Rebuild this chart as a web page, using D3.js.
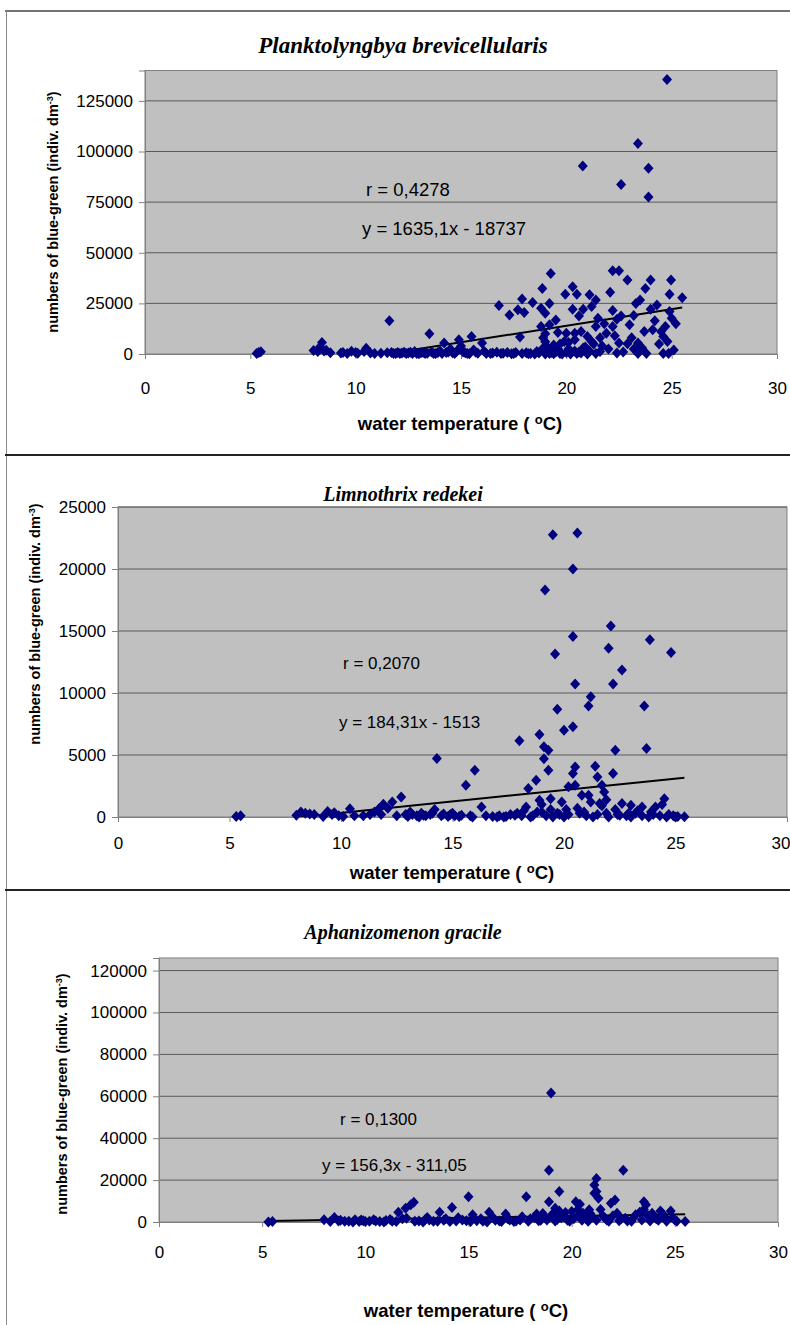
<!DOCTYPE html>
<html>
<head>
<meta charset="utf-8">
<title>blue-green vs water temperature</title>
<style>
  body { margin: 0; background: #fff; }
  svg { display: block; }
</style>
</head>
<body>
<script src="https://d3js.org/d3.v7.min.js"></script>
<script>
// ---- data ----
let titles = ["Planktolyngbya brevicellularis", "Limnothrix redekei", "Aphanizomenon gracile"];
let xTicks = [0, 5, 10, 15, 20, 25, 30];
let yTicks1 = [0, 25000, 50000, 75000, 100000, 125000];
let yTicks2 = [0, 5000, 10000, 15000, 20000, 25000];
let yTicks3 = [0, 20000, 40000, 60000, 80000, 100000, 120000];
let rLabels = ["r = 0,4278", "r = 0,2070", "r = 0,1300"];
let eqLabels = ["y = 1635,1x - 18737", "y = 184,31x - 1513", "y = 156,3x - 311,05"];
let slopes = [1635.1, 184.31, 156.3];
let intercepts = [-18737, -1513, -311.05];

// [water temperature, numbers]
let points1 = [
  [5.3,300],[5.4,800],[5.5,1100],
  [8.0,1700],[8.2,1200],[8.3,3400],[8.4,5700],[8.5,1500],[8.6,1800],[8.8,600],
  [9.3,500],[9.4,800],[9.6,300],[9.8,1300],[10.0,800],[10.1,400],[10.4,1200],[10.5,2900],[10.7,500],[10.9,200],
  [11.2,400],[11.5,600],[11.6,16400],[11.7,800],[11.8,300],[11.9,200],[12.0,700],[12.1,300],[12.2,500],[12.3,900],
  [12.4,200],[12.5,500],[12.6,900],[12.7,200],[12.8,1200],[12.9,300],[13.0,100],[13.1,600],[13.2,800],[13.3,200],
  [13.4,400],[13.5,10000],[13.6,1000],[13.7,200],[13.8,300],[13.9,700],[14.0,1500],[14.1,200],[14.2,5400],[14.3,800],
  [14.4,1000],[14.5,2500],[14.6,600],[14.7,300],[14.8,1400],[14.9,7000],[15.0,4000],[15.1,1000],[15.2,600],[15.3,300],
  [15.4,100],[15.5,8700],[15.6,2000],[15.7,900],[15.8,400],[16.0,5400],[16.1,1300],[16.2,200],[16.4,200],[16.5,500],
  [16.7,900],[16.8,23900],[16.9,300],[17.0,400],[17.2,800],[17.3,19300],[17.4,100],[17.5,300],[17.6,700],[17.7,21800],
  [17.8,8400],[17.9,27200],[17.9,300],[18.0,20500],[18.1,600],[18.2,100],[18.3,300],[18.4,25400],[18.5,0],[18.6,1200],
  [18.7,500],[18.8,22600],[18.8,13600],[18.86,32400],[18.9,3000],[18.9,8000],[19.0,20100],[19.0,10000],[19.0,6000],[19.0,0],
  [19.1,1500],[19.1,3500],[19.2,25000],[19.2,14400],[19.2,200],[19.26,39800],[19.3,800],[19.3,2000],[19.4,4500],[19.4,100],
  [19.5,16800],[19.5,1000],[19.6,10600],[19.6,2500],[19.7,300],[19.7,5000],[19.8,0],[19.9,6200],[19.95,29500],[20.0,10300],
  [20.0,800],[20.1,5700],[20.1,2500],[20.2,1500],[20.2,0],[20.3,33200],[20.3,22100],[20.4,10300],[20.4,7000],[20.4,1500],
  [20.5,29500],[20.5,300],[20.6,18800],[20.6,1000],[20.7,11100],[20.7,500],[20.78,92900],[20.8,22100],[20.8,3000],[20.9,3500],
  [21.0,8700],[21.0,0],[21.1,29200],[21.1,1500],[21.2,23400],[21.2,6200],[21.3,5000],[21.4,26700],[21.4,13600],[21.4,300],
  [21.5,17700],[21.6,1200],[21.6,8000],[21.7,4000],[21.8,15000],[21.9,10300],[22.0,2500],[22.08,30500],[22.2,41100],[22.2,21500],
  [22.2,13600],[22.3,9000],[22.4,17200],[22.4,500],[22.5,41100],[22.5,5400],[22.6,83700],[22.6,18800],[22.7,1000],[22.9,36500],
  [22.9,5100],[23.0,14400],[23.1,8000],[23.2,2500],[23.2,19000],[23.3,25000],[23.4,104000],[23.4,5400],[23.4,200],[23.5,26700],
  [23.6,3000],[23.7,11100],[23.75,32400],[23.8,300],[23.9,91700],[23.9,77500],[24.0,36500],[24.0,22100],[24.1,12000],[24.2,16400],
  [24.3,24200],[24.4,5000],[24.5,11100],[24.6,8700],[24.6,300],[24.7,13600],[24.78,135600],[24.8,6200],[24.85,200],[24.9,29500],
  [24.9,21000],[24.97,36500],[25.0,17700],[25.1,2000],[25.2,15000],[25.5,27800]
];
let points2 = [
  [5.3,50],[5.5,100],[8.0,150],[8.2,400],[8.4,300],[8.6,250],[8.8,200],[9.2,50],[9.4,450],[9.6,200],
  [9.7,350],[9.9,100],[10.1,50],[10.4,670],[10.6,100],[11.0,100],[11.3,200],[11.5,400],[11.7,670],[11.8,200],
  [11.9,1020],[12.1,700],[12.3,1210],[12.5,100],[12.7,1620],[12.9,200],[13.0,50],[13.1,400],[13.2,200],[13.4,100],
  [13.5,0],[13.6,300],[13.7,150],[13.8,100],[14.0,200],[14.1,300],[14.2,600],[14.3,4720],[14.5,100],[14.6,250],
  [14.8,50],[14.9,200],[15.0,300],[15.1,100],[15.3,50],[15.4,150],[15.6,2560],[15.8,100],[15.9,0],[16.0,3770],
  [16.3,810],[16.5,100],[16.8,50],[17.0,0],[17.1,100],[17.3,0],[17.4,50],[17.6,200],[17.8,150],[17.9,300],
  [18.0,6150],[18.1,100],[18.2,500],[18.3,800],[18.4,2290],[18.5,0],[18.6,100],[18.75,2960],[18.8,400],[18.9,6650],
  [18.9,1350],[19.0,400],[19.0,1000],[19.1,5660],[19.1,4700],[19.15,18300],[19.2,100],[19.3,5390],[19.3,3770],[19.4,1480],
  [19.4,600],[19.5,22770],[19.5,0],[19.6,13150],[19.7,8680],[19.7,300],[19.8,200],[19.9,1200],[20.0,7000],[20.0,0],
  [20.1,600],[20.2,2430],[20.2,200],[20.4,20000],[20.4,14550],[20.4,7280],[20.4,3500],[20.5,10730],[20.5,4040],[20.5,2560],
  [20.6,22900],[20.6,700],[20.7,300],[20.8,1750],[20.9,400],[21.0,100],[21.1,8950],[21.1,1750],[21.2,9700],[21.2,1200],
  [21.3,0],[21.4,4100],[21.5,3230],[21.5,200],[21.6,1080],[21.7,2560],[21.7,900],[21.8,2020],[21.9,300],[21.9,1400],
  [22.0,13600],[22.0,0],[22.1,15400],[22.2,10730],[22.2,3500],[22.3,5390],[22.3,600],[22.4,200],[22.5,150],[22.6,11860],
  [22.6,1080],[22.8,100],[22.9,300],[23.0,940],[23.0,0],[23.2,300],[23.3,500],[23.5,810],[23.5,100],[23.6,8950],
  [23.7,5520],[23.8,0],[23.85,14300],[23.9,400],[24.0,200],[24.1,800],[24.3,100],[24.4,1000],[24.5,1480],[24.6,0],
  [24.7,200],[24.8,13260],[24.9,100],[25.0,0],[25.1,50],[25.4,30]
];
let points3 = [
  [5.3,0],[5.5,200],[8.0,1100],[8.3,200],[8.5,2200],[8.7,500],[8.8,800],[9.0,400],[9.2,300],[9.4,0],
  [9.5,1100],[9.7,200],[9.8,900],[9.9,600],[10.0,200],[10.2,300],[10.4,1100],[10.5,500],[10.7,200],[10.9,0],
  [11.0,700],[11.2,1200],[11.3,400],[11.5,200],[11.6,4700],[11.8,1500],[11.95,6600],[12.0,1800],[12.2,8200],[12.35,9400],
  [12.4,300],[12.6,500],[12.8,0],[12.9,1200],[13.0,2200],[13.1,900],[13.3,400],[13.5,300],[13.6,4700],[13.8,800],
  [13.9,1500],[14.1,200],[14.2,6900],[14.4,500],[14.5,2000],[14.7,1000],[14.9,600],[15.0,12100],[15.1,200],[15.2,3500],
  [15.4,600],[15.6,1500],[15.7,300],[15.9,0],[16.0,4700],[16.2,2000],[16.3,800],[16.5,500],[16.6,200],[16.8,3800],
  [16.9,1500],[17.0,1000],[17.2,200],[17.3,500],[17.5,1000],[17.6,2500],[17.8,12100],[17.9,300],[18.0,1500],[18.2,2000],
  [18.3,3800],[18.4,600],[18.5,800],[18.6,4000],[18.7,2000],[18.8,1000],[18.9,24700],[18.9,9700],[19.0,61600],[19.0,3000],
  [19.1,4000],[19.2,6600],[19.2,500],[19.3,1200],[19.4,14500],[19.4,5300],[19.5,2000],[19.6,2500],[19.7,4500],[19.8,800],
  [19.9,300],[20.0,5000],[20.1,1500],[20.2,9700],[20.3,3000],[20.3,6000],[20.4,8500],[20.5,800],[20.55,4200],[20.6,2500],
  [20.7,1500],[20.8,300],[20.85,5800],[20.9,4000],[21.0,2500],[21.1,17600],[21.1,13700],[21.2,20750],[21.2,14500],[21.2,800],
  [21.3,11300],[21.4,6000],[21.5,3000],[21.6,2000],[21.7,1000],[21.8,400],[21.9,9000],[22.0,3000],[22.1,10500],[22.2,4200],
  [22.3,600],[22.4,1500],[22.5,24700],[22.6,1800],[22.7,500],[22.9,300],[23.0,2000],[23.1,3500],[23.3,4700],[23.4,1000],
  [23.5,9700],[23.5,6000],[23.6,8200],[23.7,3000],[23.8,500],[23.9,4200],[24.0,2500],[24.1,1500],[24.2,800],[24.3,5300],
  [24.4,4000],[24.5,2500],[24.6,300],[24.8,5300],[24.9,2000],[25.0,1000],[25.1,400],[25.5,200]
];

// ---- layout (pixels) ----
let panels = [
  {points: points1, yTicks: yTicks1, yMax: 140000, left: 145, right: 777, top: 70.5, bottom: 354,
   titleY: 45, titleSize: 23, noteSize: 18.5, tickY: 388, xTitleX: 460, xTitleY: 424, yTitleX: 53, yTitleY: 212,
   rPos: [366, 190], eqPos: [362, 229]},
  {points: points2, yTicks: yTicks2, yMax: 25000, left: 118, right: 787, top: 507, bottom: 817,
   titleY: 494, titleSize: 20, noteSize: 17, tickY: 843, xTitleX: 452, xTitleY: 873, yTitleX: 35, yTitleY: 624,
   rPos: [343, 663], eqPos: [339, 722]},
  {points: points3, yTicks: yTicks3, yMax: 126000, left: 159, right: 778, top: 958, bottom: 1222,
   titleY: 932, titleSize: 20, noteSize: 17, tickY: 1252, xTitleX: 466, xTitleY: 1311, yTitleX: 62, yTitleY: 1094,
   rPos: [340, 1119], eqPos: [322, 1165]}
];

let svg = d3.select('body').append('svg').attr('width', 790).attr('height', 1325);

// outer frames
svg.append('line').attr('x1', 5).attr('x2', 790).attr('y1', 11).attr('y2', 11)
  .attr('stroke', '#444').attr('stroke-width', 1.5);
svg.append('line').attr('x1', 6.5).attr('x2', 6.5).attr('y1', 11).attr('y2', 1325)
  .attr('stroke', '#888').attr('stroke-width', 1);
[455, 890].forEach(function(y) {
  svg.append('line').attr('x1', 5).attr('x2', 790).attr('y1', y).attr('y2', y)
    .attr('stroke', '#222').attr('stroke-width', 2);
});

function diamond(d) { return 'M0,-5.5L5,0L0,5.5L-5,0Z'; }

function drawPanel(p, i) {
  let x = d3.scaleLinear().domain([0, 30]).range([p.left, p.right]);
  let y = d3.scaleLinear().domain([0, p.yMax]).range([p.bottom, p.top]);
  let g = svg.append('g');

  // plot area
  g.append('rect').attr('x', p.left).attr('y', p.top)
    .attr('width', p.right - p.left).attr('height', p.bottom - p.top)
    .attr('fill', '#c0c0c0').attr('stroke', '#808080').attr('stroke-width', 1);

  // gridlines
  g.selectAll('.grid').data(p.yTicks.filter(d => d > 0)).enter()
    .append('line').attr('class', 'grid')
    .attr('x1', p.left).attr('x2', p.right)
    .attr('y1', d => y(d)).attr('y2', d => y(d))
    .attr('stroke', '#5a5a5a').attr('stroke-width', 1);

  // axes
  let yAxis = g.append('g').attr('transform', 'translate(' + p.left + ',0)')
    .call(d3.axisLeft(y).tickValues(p.yTicks).tickSize(6).tickPadding(6).tickFormat(d3.format('d')));
  let xAxis = g.append('g').attr('transform', 'translate(0,' + p.bottom + ')')
    .call(d3.axisBottom(x).tickValues(xTicks).tickSize(5).tickFormat(d3.format('d')));
  yAxis.select('.domain').attr('stroke', '#808080');
  xAxis.select('.domain').attr('stroke', '#808080');
  g.selectAll('.tick line').attr('stroke', '#808080');
  yAxis.selectAll('.tick text').attr('font-family', 'Arial, "Liberation Sans", sans-serif')
    .attr('font-size', 17).attr('fill', '#000');
  xAxis.selectAll('.tick text').attr('font-family', 'Arial, "Liberation Sans", sans-serif')
    .attr('font-size', 17).attr('fill', '#000')
    .attr('y', p.tickY - p.bottom).attr('dy', '0.35em');
  // keep the last label inside the page
  xAxis.selectAll('.tick text').filter(d => x(d) > 780)
    .attr('text-anchor', 'end').attr('x', 790 - p.right);

  // trend line (clipped to plot area)
  let clipId = 'clip' + i;
  svg.append('clipPath').attr('id', clipId).append('rect')
    .attr('x', p.left).attr('y', p.top).attr('width', p.right - p.left).attr('height', p.bottom - p.top);
  let tMin = d3.min(p.points, d => d[0]);
  let tMax = d3.max(p.points, d => d[0]);
  let trend = [tMin, tMax].map(t => [t, slopes[i] * t + intercepts[i]]);
  g.append('path').datum(trend)
    .attr('clip-path', 'url(#' + clipId + ')')
    .attr('d', d3.line().x(d => x(d[0])).y(d => y(d[1])))
    .attr('stroke', '#000').attr('stroke-width', 2).attr('fill', 'none');

  // points
  g.selectAll('.pt').data(p.points).enter()
    .append('path').attr('class', 'pt')
    .attr('d', diamond)
    .attr('transform', d => 'translate(' + x(d[0]) + ',' + y(d[1]) + ')')
    .attr('fill', '#000080');

  // title
  g.append('text').attr('x', 403).attr('y', p.titleY).attr('dy', '0.35em')
    .attr('text-anchor', 'middle')
    .attr('font-family', '"Times New Roman", "Liberation Serif", serif')
    .attr('font-style', 'italic').attr('font-weight', 'bold').attr('font-size', p.titleSize)
    .text(titles[i]);

  // annotations
  g.append('text').attr('x', p.rPos[0]).attr('y', p.rPos[1]).attr('dy', '0.35em')
    .attr('font-family', 'Arial, "Liberation Sans", sans-serif').attr('font-size', p.noteSize)
    .text(rLabels[i]);
  g.append('text').attr('x', p.eqPos[0]).attr('y', p.eqPos[1]).attr('dy', '0.35em')
    .attr('font-family', 'Arial, "Liberation Sans", sans-serif').attr('font-size', p.noteSize)
    .text(eqLabels[i]);

  // x title
  let xt = g.append('text').attr('x', p.xTitleX).attr('y', p.xTitleY).attr('dy', '0.35em')
    .attr('text-anchor', 'middle')
    .attr('font-family', 'Arial, "Liberation Sans", sans-serif').attr('font-weight', 'bold').attr('font-size', 18.5);
  xt.append('tspan').text('water temperature ( ');
  xt.append('tspan').attr('font-size', 13).attr('dy', '-0.5em').text('o');
  xt.append('tspan').attr('dy', '0.35em').text('C)');

  // y title
  let yt = g.append('text')
    .attr('transform', 'translate(' + p.yTitleX + ',' + p.yTitleY + ') rotate(-90)')
    .attr('dy', '0.35em').attr('text-anchor', 'middle')
    .attr('font-family', 'Arial, "Liberation Sans", sans-serif').attr('font-weight', 'bold').attr('font-size', 14.5);
  yt.append('tspan').text('numbers of blue-green (indiv. dm');
  yt.append('tspan').attr('font-size', 9).attr('dy', '-0.6em').text('-3');
  yt.append('tspan').attr('dy', '0.35em').text(')');
}

panels.forEach(drawPanel);
</script>
</body>
</html>
